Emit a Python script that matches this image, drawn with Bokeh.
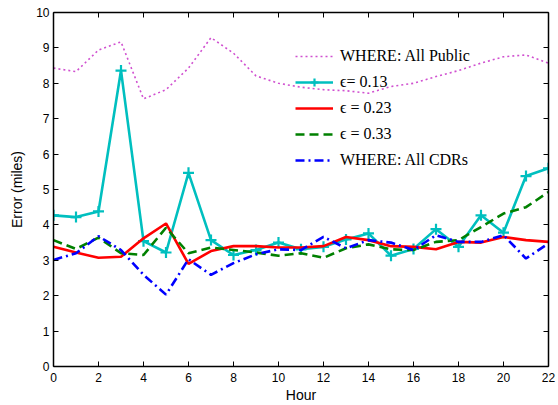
from bokeh.plotting import figure
from bokeh.models import Range1d, LinearAxis, Legend, LegendItem
from bokeh.embed import file_html
from bokeh.resources import INLINE

hours = list(range(23))
where_public = [8.43, 8.33, 8.94, 9.17, 7.56, 7.82, 8.43, 9.29, 8.85, 8.21, 8.0,
                7.89, 7.82, 7.79, 7.72, 7.91, 8.0, 8.19, 8.36, 8.57, 8.75, 8.8, 8.57]
eps_013 = [4.27, 4.22, 4.38, 8.36, 3.54, 3.22, 5.47, 3.57, 3.15, 3.29, 3.5,
           3.31, 3.38, 3.59, 3.76, 3.13, 3.32, 3.88, 3.38, 4.27, 3.78, 5.38, 5.6]
eps_023 = [3.38, 3.22, 3.07, 3.1, 3.62, 4.04, 2.9, 3.26, 3.4, 3.4, 3.36,
           3.36, 3.4, 3.66, 3.57, 3.4, 3.38, 3.31, 3.52, 3.5, 3.66, 3.57, 3.52]
eps_033 = [3.57, 3.32, 3.64, 3.2, 3.15, 3.92, 3.2, 3.36, 3.29, 3.22, 3.13,
           3.2, 3.07, 3.34, 3.45, 3.31, 3.29, 3.52, 3.57, 3.94, 4.32, 4.5, 4.93]
where_cdrs = [3.01, 3.2, 3.68, 3.29, 2.59, 2.03, 3.03, 2.59, 2.92, 3.17, 3.31,
              3.29, 3.66, 3.34, 3.57, 3.5, 3.29, 3.71, 3.52, 3.52, 3.71, 3.05, 3.48]
labels = ["WHERE: All Public", "\u03f5= 0.13", "\u03f5 = 0.23", "\u03f5 = 0.33", "WHERE: All CDRs"]
x_ticks = list(range(0, 23, 2))
y_ticks = list(range(0, 11))

p = figure(width=558, height=405, output_backend="svg", toolbar_location=None,
           x_range=Range1d(0, 22), y_range=Range1d(0, 10),
           min_border_left=53, min_border_right=10, min_border_top=12, min_border_bottom=36)
p.grid.visible = False
p.outline_line_color = None
p.background_fill_color = "white"

r_pub = p.line(hours, where_public, line_color="#D050D0", line_width=1.6, line_dash="2 3")
r_c = p.line(hours, eps_013, line_color="#00BFBF", line_width=2.6)
r_cm = p.scatter(hours, eps_013, marker="cross", size=11, line_color="#00BFBF", line_width=2.2)
r_r = p.line(hours, eps_023, line_color="#FF0000", line_width=2.6)
r_g = p.line(hours, eps_033, line_color="#008000", line_width=2.6, line_dash="9 5")
r_b = p.line(hours, where_cdrs, line_color="#0000FF", line_width=2.6, line_dash="9 4 2 4")

font = "Liberation Sans"
for ax in [p.xaxis[0], p.yaxis[0]]:
    ax.axis_line_color = "black"
    ax.axis_line_width = 1.5
    ax.major_tick_line_color = "black"
    ax.major_tick_in = 5
    ax.major_tick_out = 0
    ax.minor_tick_line_color = None
    ax.major_label_text_font = font
    ax.major_label_text_font_size = "12px"
    ax.major_label_text_color = "black"
    ax.axis_label_text_font = font
    ax.axis_label_text_font_size = "14px"
    ax.axis_label_text_font_style = "normal"
    ax.axis_label_text_color = "black"
p.xaxis.ticker = x_ticks
p.yaxis.ticker = y_ticks
p.xaxis.axis_label = "Hour"
p.yaxis.axis_label = "Error (miles)"
p.xaxis.major_label_standoff = 6
p.xaxis.axis_label_standoff = 2
p.yaxis.major_label_standoff = 4
p.yaxis.axis_label_standoff = 8

top = LinearAxis(ticker=x_ticks, major_tick_in=5, major_tick_out=0, minor_tick_line_color=None,
                 major_label_overrides={t: "" for t in x_ticks},
                 major_label_standoff=0, axis_line_color="black", axis_line_width=1.5)
right = LinearAxis(ticker=y_ticks, major_tick_in=5, major_tick_out=0, minor_tick_line_color=None,
                   major_label_overrides={t: "" for t in y_ticks},
                   major_label_standoff=0, axis_line_color="black", axis_line_width=1.5)
p.add_layout(top, "above")
p.add_layout(right, "right")

legend = Legend(items=[
    LegendItem(label=labels[0], renderers=[r_pub]),
    LegendItem(label=labels[1], renderers=[r_c, r_cm]),
    LegendItem(label=labels[2], renderers=[r_r]),
    LegendItem(label=labels[3], renderers=[r_g]),
    LegendItem(label=labels[4], renderers=[r_b]),
], location=(242, 196))
legend.background_fill_alpha = 0
legend.border_line_color = None
legend.label_text_font = "Liberation Serif"
legend.label_text_font_size = "16px"
legend.label_text_color = "black"
legend.glyph_width = 38
legend.glyph_height = 20
legend.label_height = 20
legend.spacing = 6
legend.padding = 5
legend.margin = 0
legend.label_standoff = 7
p.add_layout(legend)

open("out.html", "w").write(file_html(p, INLINE))
